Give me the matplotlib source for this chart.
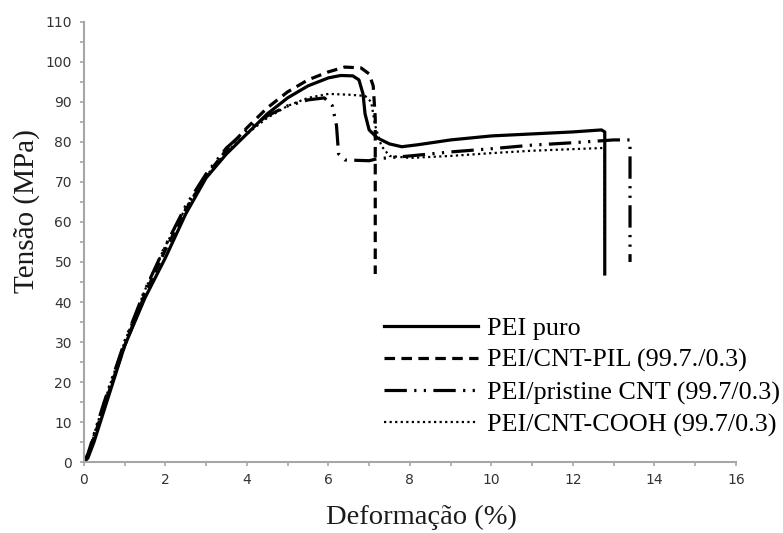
import matplotlib
matplotlib.use("Agg")
import matplotlib.pyplot as plt
from matplotlib.ticker import MultipleLocator

# strain (%) and stress (MPa)
puro_x = [0, 0.1, 0.25, 0.5, 1.0, 1.5, 2.0, 2.5, 3.0, 3.5, 4.0, 4.5, 5.0, 5.5, 6.0, 6.3, 6.6,
          6.75, 6.85, 6.9, 7.0, 7.2, 7.5, 7.8, 8.2, 9.0, 10.0, 11.0, 12.0, 12.7, 12.78, 12.78]
puro_y = [0, 1, 5, 13, 29, 41, 51, 62, 71, 77, 82, 87, 91, 94, 96, 96.6, 96.5,
          95.5, 92, 87, 83, 81, 79.5, 78.8, 79.3, 80.5, 81.5, 82, 82.5, 83, 82.5, 47]

pil_x = [0, 0.1, 0.5, 1.0, 1.5, 2.0, 2.5, 3.0, 3.5, 4.0, 4.5, 5.0, 5.5, 6.0, 6.4, 6.8,
         7.0, 7.1, 7.15, 7.15]
pil_y = [0, 1.5, 14, 29, 42, 53, 63, 71.5, 78, 83.5, 88.5, 92.5, 95.5, 97.5, 98.7, 98.5,
         97, 94, 86, 47]

prist_x = [0, 0.1, 0.5, 1.0, 1.5, 2.0, 2.5, 3.0, 3.5, 4.0, 4.5, 5.0, 5.5, 5.9, 6.1, 6.2,
           6.25, 6.4, 7.0, 7.2, 8.0, 9.0, 10.0, 11.0, 12.0, 13.0, 13.4, 13.4]
prist_y = [0, 2, 15, 30, 43, 54, 64, 72, 78.5, 83, 86.5, 89, 90.5, 91, 89, 84,
           77, 75.5, 75.3, 75.8, 76.5, 77.5, 78.3, 79.2, 79.8, 80.5, 80.5, 50]

cooh_x = [0, 0.1, 0.5, 1.0, 1.5, 2.0, 2.5, 3.0, 3.5, 4.0, 4.5, 5.0, 5.5, 6.0, 6.5, 6.9,
          7.05, 7.15, 7.3, 7.5, 8.0, 9.0, 10.0, 11.0, 12.0, 12.78, 12.78]
cooh_y = [0, 2, 15, 30, 43, 54, 63.5, 71.5, 77.5, 82, 86, 89, 91, 92, 91.8, 91.5,
          90, 84, 79, 76.5, 76, 76.5, 77.2, 77.8, 78.2, 78.5, 55]

labels = ["PEI puro", "PEI/CNT-PIL (99.7./0.3)", "PEI/pristine CNT (99.7/0.3)",
          "PEI/CNT-COOH (99.7/0.3)"]

fig = plt.figure(figsize=(7.83, 5.33), dpi=100)
ax = fig.add_axes([0.107, 0.133, 0.833, 0.826])

ax.plot(puro_x, puro_y, color="black", lw=2.3, label=labels[0])
ax.plot(pil_x, pil_y, color="black", lw=2.3, dashes=(3.3, 2.0), label=labels[1])
ax.plot(prist_x, prist_y, color="black", lw=2.3,
        dashes=(7.0, 2.3, 0.7, 2.3, 0.7, 2.3), label=labels[2])
ax.plot(cooh_x, cooh_y, color="black", lw=1.6, dashes=(1.0, 1.5), label=labels[3])

ax.set_xlim(0, 16)
ax.set_ylim(0, 110)
ax.xaxis.set_major_locator(MultipleLocator(2))
ax.xaxis.set_minor_locator(MultipleLocator(1))
ax.yaxis.set_major_locator(MultipleLocator(10))
ax.yaxis.set_minor_locator(MultipleLocator(5))

for side in ["top", "right"]:
    ax.spines[side].set_visible(False)
for side in ["left", "bottom"]:
    ax.spines[side].set_color("#a6a6a6")
    ax.spines[side].set_linewidth(1.5)

ax.tick_params(which="both", direction="out", color="#a6a6a6", width=1.2, length=3,
               labelsize=10, labelcolor="#333333")
ax.tick_params(axis="y", which="major", pad=5.5)
ax.tick_params(axis="x", which="major", pad=5)

serif = "Liberation Serif"
ax.set_xlabel("Deformação (%)", family=serif, fontsize=20.5, color="#1a1a1a", labelpad=13)
ax.set_ylabel("Tensão (MPa)", family=serif, fontsize=21, color="#1a1a1a", labelpad=4)
ax.xaxis.label.set_x(0.518)
ax.yaxis.label.set_y(0.57)

fig.legend(loc="upper left", bbox_to_anchor=(0.49, 0.406), frameon=False,
           prop={"family": serif, "size": 18.8}, handlelength=3.6, handletextpad=0.35,
           labelspacing=0.33, borderpad=0, borderaxespad=0)

fig.savefig("out.png", dpi=100)
